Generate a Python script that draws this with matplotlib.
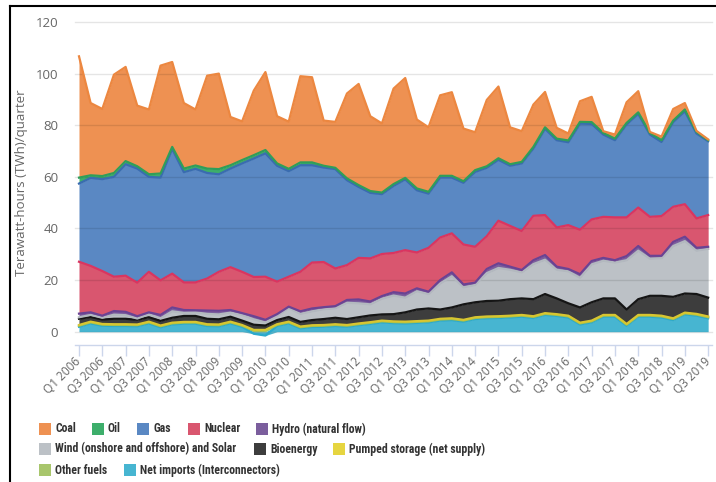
import numpy as np
import matplotlib
matplotlib.use('Agg')
import matplotlib.pyplot as plt
from matplotlib.patches import Rectangle
from matplotlib.lines import Line2D

# quarters Q1 2006 .. Q3 2019
years = list(range(2006, 2020))
quarters = [f'Q{q} {y}' for y in years for q in range(1, 5)][:55]

# TWh per quarter
coal = [47.0, 28.0, 26.0, 38.1, 36.5, 23.5, 25.1, 41.8, 32.9, 25.4,
        21.7, 36.0, 37.0, 18.7, 15.0, 25.0, 30.2, 18.3, 18.3, 33.4,
        33.0, 17.5, 17.8, 32.9, 39.2, 29.0, 26.8, 37.0,
        38.7, 26.7, 25.0, 31.2, 32.4, 20.4, 14.7, 25.7, 27.8, 14.3,
        11.9, 16.4, 13.7, 4.2, 2.7, 8.0, 9.8, 0.7, 1.6, 8.0,
        8.2, 0.4, 1.4, 4.5, 2.5, 0.4, 0.3]
oil = [2.3, 1.0, 1.2, 1.5, 1.2, 0.9, 1.0, 1.6, 0.8, 1.4,
       1.3, 1.7, 2.0, 1.3, 1.3, 1.3, 1.3, 0.9, 0.9, 1.1,
       1.1, 0.7, 0.5, 0.7, 0.7, 0.7, 0.6, 0.7,
       0.6, 0.7, 0.7, 0.7, 0.7, 0.6, 0.7, 0.6, 0.6, 0.6,
       0.6, 0.6, 0.6, 0.6, 0.7, 0.7, 0.7, 0.6, 0.6, 0.6,
       0.6, 0.6, 0.7, 0.6, 0.7, 0.6, 0.4]
gas = [30.3, 34.1, 35.6, 38.7, 43.2, 44.2, 36.8, 39.8, 48.3, 42.7,
       44.0, 40.9, 37.8, 38.2, 42.0, 45.9, 47.8, 44.9, 40.9, 41.3,
       37.7, 36.6, 38.5, 32.9, 27.5, 25.4, 23.2, 26.0,
       27.4, 24.1, 21.0, 23.2, 21.6, 23.9, 29.0, 26.5, 23.6, 23.3,
       26.2, 26.1, 33.4, 33.8, 32.1, 41.1, 37.0, 31.9, 29.9, 36.0,
       36.3, 31.9, 28.7, 32.8, 36.0, 32.9, 28.6]
nuclear = [20.1, 18.0, 17.3, 13.3, 14.0, 13.0, 15.7, 13.4, 13.1, 10.7,
           10.8, 12.4, 15.1, 16.6, 16.0, 15.2, 16.7, 12.6, 11.6, 15.3,
           17.8, 17.5, 14.6, 13.5, 16.1, 16.7, 16.3, 15.2,
           16.8, 13.9, 17.0, 16.5, 15.1, 15.5, 13.9, 12.7, 16.5, 15.8,
           15.1, 17.2, 15.5, 15.2, 17.0, 17.2, 16.1, 15.9, 16.6, 15.0,
           14.9, 15.1, 15.4, 13.6, 12.6, 11.4, 12.3]
hydro = [1.4, 1.0, 0.8, 1.4, 1.3, 0.9, 0.7, 1.3, 1.5, 1.1,
         0.8, 1.3, 1.4, 1.0, 0.7, 1.2, 1.0, 0.7, 0.5, 1.0,
         1.1, 0.8, 0.8, 1.1, 1.5, 1.1, 1.0, 1.3,
         1.6, 1.1, 0.9, 1.3, 1.5, 1.1, 0.9, 1.6, 1.8, 1.2,
         0.9, 1.5, 1.8, 1.2, 0.9, 1.4, 1.3, 1.1, 0.9, 1.6,
         1.8, 1.1, 0.9, 1.6, 1.7, 1.1, 0.8]
wind_solar = [0.6, 0.8, 0.7, 1.6, 1.4, 0.5, 1.2, 1.0, 2.5, 1.2,
              1.4, 1.9, 1.9, 1.6, 2.2, 2.1, 1.2, 1.6, 3.5, 3.1,
              3.4, 3.8, 3.7, 6.3, 5.4, 4.3, 6.1, 7.2,
              5.7, 7.1, 5.6, 10.1, 12.1, 6.6, 6.7, 10.8, 12.7, 11.4,
              10.1, 13.6, 13.3, 11.1, 12.4, 11.5, 14.7, 14.6, 13.9, 19.1,
              18.8, 14.4, 14.6, 19.7, 20.3, 16.8, 18.9]
bioenergy = [2.4, 1.8, 1.7, 2.1, 2.1, 1.8, 1.7, 1.8, 1.9, 2.3,
             2.3, 2.1, 2.0, 1.9, 1.7, 2.0, 1.7, 1.6, 1.8, 1.8,
             2.0, 2.3, 2.5, 2.3, 2.4, 2.6, 2.4, 2.8,
             3.6, 4.5, 4.7, 3.6, 4.2, 6.0, 5.8, 6.0, 6.0, 6.4,
             6.4, 6.6, 7.4, 6.1, 4.8, 5.9, 7.1, 6.4, 6.4, 5.6,
             6.1, 7.4, 7.7, 8.3, 7.4, 7.7, 7.3]
pumped = [0.3, 0.3, 0.3, 0.3, 0.3, 0.3, 0.3, 0.3, 0.3, 0.3,
          0.3, 0.3, 0.3, 0.3, 0.3, 0.3, 0.3, 0.3, 0.3, 0.3,
          0.3, 0.3, 0.3, 0.3, 0.3, 0.3, 0.3, 0.3,
          0.3, 0.3, 0.3, 0.3, 0.3, 0.3, 0.3, 0.3, 0.3, 0.3,
          0.3, 0.3, 0.3, 0.3, 0.3, 0.3, 0.3, 0.3, 0.3, 0.3,
          0.3, 0.3, 0.3, 0.3, 0.3, 0.3, 0.3]
other_fuels = [0.4, 0.4, 0.4, 0.4, 0.4, 0.4, 0.4, 0.4, 0.4, 0.4,
               0.4, 0.4, 0.4, 0.4, 0.4, 0.4, 0.4, 0.4, 0.4, 0.4,
               0.4, 0.4, 0.4, 0.4, 0.4, 0.4, 0.4, 0.4,
               0.4, 0.4, 0.4, 0.4, 0.4, 0.4, 0.4, 0.4, 0.4, 0.4,
               0.4, 0.4, 0.4, 0.4, 0.4, 0.4, 0.4, 0.4, 0.4, 0.4,
               0.4, 0.4, 0.4, 0.4, 0.4, 0.4, 0.4]
net_imports = [1.9, 3.2, 2.3, 2.2, 2.2, 2.1, 3.2, 1.7, 2.8, 3.1,
               3.1, 2.2, 2.1, 3.2, 1.9, -0.8, -1.5, 2.2, 3.2, 1.3,
               1.8, 1.9, 2.2, 1.9, 2.5, 3.0, 3.6, 3.3,
               3.2, 3.4, 3.6, 4.3, 4.5, 3.9, 4.9, 5.2, 5.3, 5.5,
               5.8, 5.3, 6.5, 6.1, 5.5, 2.8, 3.6, 5.8, 5.8, 2.3,
               5.8, 5.8, 5.5, 4.5, 6.7, 6.2, 5.2]

# legend order (top of stack first): name, data, fill, line
series = [
    ('Coal', coal, '#ee9152', '#ec8740'),
    ('Oil', oil, '#3dae6b', '#2f9e5a'),
    ('Gas', gas, '#5a88c3', '#3a6cb0'),
    ('Nuclear', nuclear, '#d9566f', '#da3560'),
    ('Hydro (natural flow)', hydro, '#7b5e9d', '#6a4393'),
    ('Wind (onshore and offshore) and Solar', wind_solar, '#bcc1c6', '#b3b9bf'),
    ('Bioenergy', bioenergy, '#3d3d3d', '#151515'),
    ('Pumped storage (net supply)', pumped, '#e6d540', '#d8c630'),
    ('Other fuels', other_fuels, '#a8c66c', '#9bbf55'),
    ('Net imports (Interconnectors)', net_imports, '#47b5d1', '#2aa9cc'),
]

W, H = 716, 482
fig = plt.figure(figsize=(W / 100, H / 100), dpi=100)
ax = fig.add_axes([75 / W, 1 - 344.6 / H, 637 / W, 322.6 / H])

x = np.arange(len(quarters))
pos_base = np.zeros(len(x))
neg_base = np.zeros(len(x))
for name, vals, fill, line in reversed(series):
    v = np.array(vals, dtype=float)
    pos = np.clip(v, 0, None)
    neg = np.clip(v, None, 0)
    top = pos_base + pos
    ax.fill_between(x, pos_base, top, color=fill, lw=0, zorder=2)
    if (neg < 0).any():
        ax.fill_between(x, neg_base, neg_base + neg, color=fill, lw=0, zorder=2)
    edge = np.where(v < 0, neg_base + neg, top)
    ax.plot(x, edge, color=line, lw=1.6, zorder=3, solid_joinstyle='round')
    pos_base = top
    neg_base = neg_base + neg

for yv in range(0, 121, 20):
    ax.axhline(yv, color='black', alpha=0.1, lw=1, zorder=2.5, clip_on=False)

ax.set_xlim(-0.343, 54.33)
ax.set_ylim(-5, 120)
for s in ['top', 'right', 'left']:
    ax.spines[s].set_visible(False)
ax.spines['bottom'].set_color('#ccd6eb')
ax.spines['bottom'].set_linewidth(1)

ax.set_yticks(range(0, 121, 20))
ax.tick_params(axis='y', length=0, pad=12, labelcolor='#666666', labelsize=9.5)
ax.set_xticks(x[::2])
ax.set_xticklabels(quarters[::2], rotation=45, ha='right', va='center',
                   rotation_mode='anchor')
ax.tick_params(axis='x', length=8, width=1, color='#ccd6eb', pad=3,
               labelcolor='#666666', labelsize=8.5)
for lab in ax.get_xticklabels() + ax.get_yticklabels():
    lab.set_family(['Open Sans', 'DejaVu Sans'])

ylab = fig.text(22 / W, 1 - 183 / H, 'Terawatt-hours (TWh)/quarter', rotation=90,
                ha='center', va='center', color='#666666', fontsize=9.5,
                family=['Open Sans', 'DejaVu Sans'])

# legend, laid out by hand in three rows
legend_pos = [(39, 429), (92, 429), (137, 429), (188, 429), (256, 429),
              (39, 449), (254, 449), (333, 449),
              (39, 470), (124, 470)]
legend_texts = []
for (name, vals, fill, line), (lx, ly) in zip(series, legend_pos):
    fig.add_artist(Rectangle((lx / W, 1 - (ly + 6) / H), 12 / W, 12 / H,
                             transform=fig.transFigure, color=fill, lw=0))
    t = fig.text((lx + 16) / W, 1 - ly / H, name, ha='left', va='center',
                 color='#333333', fontsize=10, fontweight='semibold',
                 family=['Roboto Condensed', 'Roboto', 'DejaVu Sans'])
    legend_texts.append(t)

# the reference legend uses a narrow font: size it so the wind label spans ~182 px
renderer = fig.canvas.get_renderer()
wind_w = legend_texts[5].get_window_extent(renderer).width
size = 10 * 182 / wind_w
for t in legend_texts:
    t.set_fontsize(size)

# y label spans ~187 px in the reference
ylab_h = ylab.get_window_extent(renderer).height
ylab.set_fontsize(9.5 * 187 / ylab_h)

# outer frame
fig.add_artist(Line2D([10 / W, 10 / W], [0, 1 - 6 / H], color='black', lw=1.5))
fig.add_artist(Line2D([10 / W, 1], [1 - 6 / H, 1 - 6 / H], color='black', lw=1.5))

fig.savefig('out.png', dpi=100)
